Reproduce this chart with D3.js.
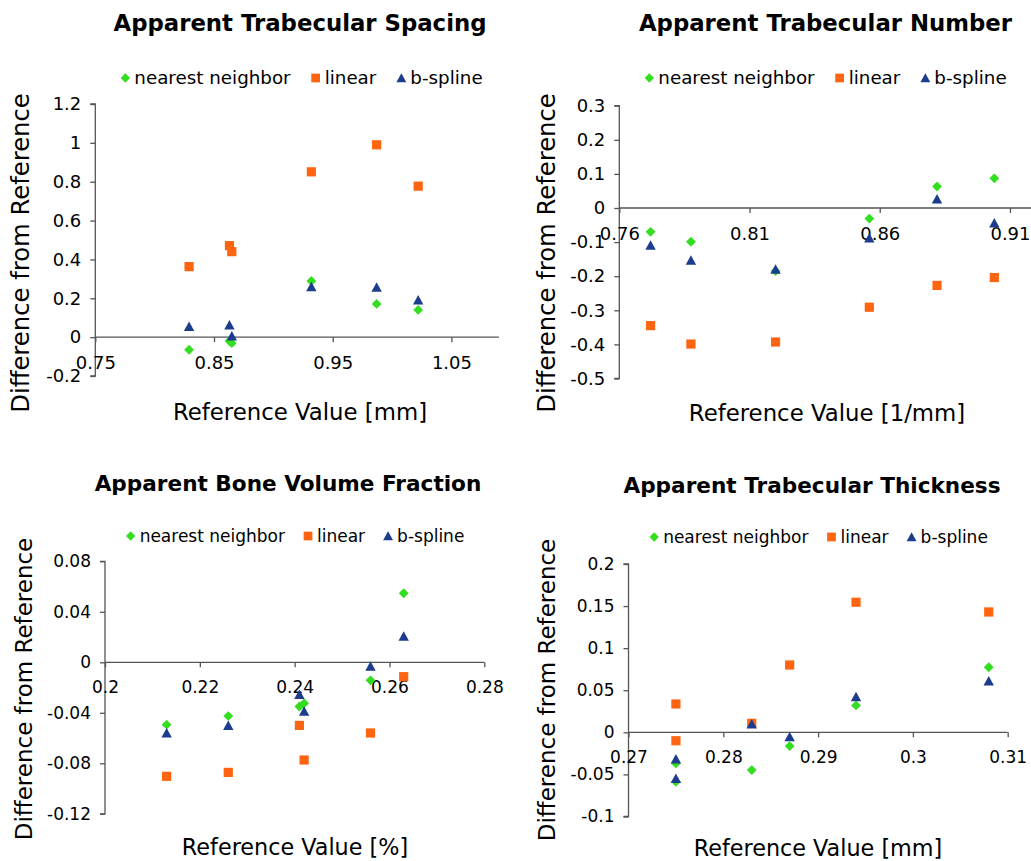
<!DOCTYPE html>
<html><head><meta charset="utf-8">
<script src="https://cdn.jsdelivr.net/npm/d3@7"></script>
<style>body{margin:0;background:#fff}svg{display:block}</style>
</head><body>
<svg id="c" width="1031" height="861"></svg>
<script>
// ---------- data ----------
const seriesNames = ["nearest neighbor", "linear", "b-spline"];
const seriesColors = ["#33dd1f", "#ff6410", "#1c3c8e"];

// Apparent Trabecular Spacing
const spacingRef     = [0.829, 0.863, 0.865, 0.932, 0.987, 1.022];
const spacingNN      = [-0.065, -0.020, -0.031, 0.289, 0.171, 0.140];
const spacingLinear  = [0.363, 0.471, 0.440, 0.851, 0.990, 0.777];
const spacingBspline = [0.055, 0.063, 0.007, 0.260, 0.257, 0.192];
const spacingXTicks  = [0.75, 0.85, 0.95, 1.05];
const spacingXLabels = ["0.75", "0.85", "0.95", "1.05"];
const spacingYTicks  = [-0.2, 0, 0.2, 0.4, 0.6, 0.8, 1, 1.2];
const spacingYLabels = ["-0.2", "0", "0.2", "0.4", "0.6", "0.8", "1", "1.2"];

// Apparent Trabecular Number
const numberRef     = [0.772, 0.7875, 0.820, 0.856, 0.882, 0.904];
const numberNN      = [-0.070, -0.099, -0.185, -0.031, 0.063, 0.087];
const numberLinear  = [-0.345, -0.399, -0.393, -0.291, -0.227, -0.204];
const numberBspline = [-0.109, -0.153, -0.179, -0.088, 0.027, -0.044];
const numberXTicks  = [0.76, 0.81, 0.86, 0.91];
const numberXLabels = ["0.76", "0.81", "0.86", "0.91"];
const numberYTicks  = [-0.5, -0.4, -0.3, -0.2, -0.1, 0, 0.1, 0.2, 0.3];
const numberYLabels = ["-0.5", "-0.4", "-0.3", "-0.2", "-0.1", "0", "0.1", "0.2", "0.3"];

// Apparent Bone Volume Fraction
const bvRef     = [0.213, 0.226, 0.241, 0.242, 0.256, 0.263];
const bvNN      = [-0.0494, -0.0426, -0.0350, -0.0325, -0.0143, 0.0547];
const bvLinear  = [-0.0903, -0.0872, -0.0500, -0.0774, -0.0560, -0.0114];
const bvBspline = [-0.0560, -0.0500, -0.0254, -0.0386, -0.0030, 0.0208];
const bvXTicks  = [0.2, 0.22, 0.24, 0.26, 0.28];
const bvXLabels = ["0.2", "0.22", "0.24", "0.26", "0.28"];
const bvYTicks  = [-0.12, -0.08, -0.04, 0, 0.04, 0.08];
const bvYLabels = ["-0.12", "-0.08", "-0.04", "0", "0.04", "0.08"];

// Apparent Trabecular Thickness
const thRef     = [0.275, 0.275, 0.283, 0.287, 0.294, 0.308];
const thNN      = [-0.0370, -0.0587, -0.0448, -0.0163, 0.0320, 0.0773];
const thLinear  = [0.0337, -0.0100, 0.0107, 0.0800, 0.1546, 0.1430];
const thBspline = [-0.0317, -0.0547, 0.0099, -0.0052, 0.0423, 0.0610];
const thXTicks  = [0.27, 0.28, 0.29, 0.3, 0.31];
const thXLabels = ["0.27", "0.28", "0.29", "0.3", "0.31"];
const thYTicks  = [-0.1, -0.05, 0, 0.05, 0.1, 0.15, 0.2];
const thYLabels = ["-0.1", "-0.05", "0", "0.05", "0.1", "0.15", "0.2"];

const yTitle = "Difference from Reference";

// ---------- layout ----------
const panels = [
  { title: "Apparent Trabecular Spacing", xTitle: "Reference Value [mm]",
    ref: spacingRef, series: [spacingNN, spacingLinear, spacingBspline],
    xTicks: spacingXTicks, xLabels: spacingXLabels, yTicks: spacingYTicks, yLabels: spacingYLabels,
    xDomain: [0.75, 1.09], yDomain: [-0.2, 1.2], xRange: [95.3, 498.9], yRange: [376, 104],
    titleX: 300, titleY: 23, titleSize: 22.8, legendCX: 301.5, legendY: 78, legendSize: 18.3, legendGap: 20,
    tickSize: 18, yTitleX: 20, yTitleY: 253, yTitleSize: 24.3, xTitleX: 300, xTitleY: 412, xTitleSize: 22.8 },
  { title: "Apparent Trabecular Number", xTitle: "Reference Value [1/mm]",
    ref: numberRef, series: [numberNN, numberLinear, numberBspline],
    xTicks: numberXTicks, xLabels: numberXLabels, yTicks: numberYTicks, yLabels: numberYLabels,
    xDomain: [0.76, 0.92], yDomain: [-0.5, 0.3], xRange: [619.3, 1036], yRange: [378.5, 105.7],
    titleX: 825.5, titleY: 23, titleSize: 22.8, legendCX: 825.5, legendY: 78, legendSize: 18.3, legendGap: 20,
    tickSize: 18, yTitleX: 546, yTitleY: 253, yTitleSize: 24.3, xTitleX: 827, xTitleY: 413, xTitleSize: 22.8 },
  { title: "Apparent Bone Volume Fraction", xTitle: "Reference Value [%]",
    ref: bvRef, series: [bvNN, bvLinear, bvBspline],
    xTicks: bvXTicks, xLabels: bvXLabels, yTicks: bvYTicks, yLabels: bvYLabels,
    xDomain: [0.2, 0.28], yDomain: [-0.12, 0.08], xRange: [105, 484.3], yRange: [813.8, 561.3],
    titleX: 288, titleY: 483, titleSize: 21.6, legendCX: 295, legendY: 536, legendSize: 17, legendGap: 18,
    tickSize: 17, yTitleX: 24, yTitleY: 689, yTitleSize: 23, xTitleX: 295, xTitleY: 847, xTitleSize: 22.3 },
  { title: "Apparent Trabecular Thickness", xTitle: "Reference Value [mm]",
    ref: thRef, series: [thNN, thLinear, thBspline],
    xTicks: thXTicks, xLabels: thXLabels, yTicks: thYTicks, yLabels: thYLabels,
    xDomain: [0.27, 0.31], yDomain: [-0.1, 0.2], xRange: [628.5, 1007.7], yRange: [816.5, 564],
    titleX: 812, titleY: 485, titleSize: 21.6, legendCX: 818.5, legendY: 537, legendSize: 17, legendGap: 18,
    tickSize: 17, yTitleX: 547, yTitleY: 690, yTitleSize: 23, xTitleX: 818, xTitleY: 848, xTitleSize: 22.3 }
];

const FONT = "'DejaVu Sans', Verdana, sans-serif";
const AXIS = "#555";
const shapes = [
  "M0,-4.9L4.9,0L0,4.9L-4.9,0Z",              // diamond
  "M-4.6,-4.6L4.6,-4.6L4.6,4.6L-4.6,4.6Z",     // square
  "M0,-4.9L5.2,4.6L-5.2,4.6Z"                  // triangle
];

const svg = d3.select("#c");

panels.forEach(p => {
  const g = svg.append("g");
  const x = d3.scaleLinear().domain(p.xDomain).range(p.xRange);
  const y = d3.scaleLinear().domain(p.yDomain).range(p.yRange);

  // title
  g.append("text").attr("x", p.titleX).attr("y", p.titleY).attr("dy", "0.36em")
    .attr("text-anchor", "middle").attr("font-family", FONT).attr("font-weight", "bold")
    .attr("font-size", p.titleSize).attr("fill", "#000").text(p.title);

  // y axis
  const yAxis = d3.axisLeft(y).tickValues(p.yTicks).tickSize(5).tickPadding(9)
    .tickFormat((d, i) => p.yLabels[i]);
  const ya = g.append("g").attr("transform", `translate(${p.xRange[0]},0)`).call(yAxis);
  ya.select(".domain").attr("stroke", AXIS).attr("stroke-width", 1.3)
    .attr("d", `M-5,${p.yRange[0]}H0V${p.yRange[1]}H-5`);
  ya.selectAll(".tick line").attr("stroke", AXIS).attr("stroke-width", 1.3);
  ya.selectAll(".tick text").attr("font-family", FONT).attr("font-size", p.tickSize)
    .attr("fill", "#000");

  // x axis at y = 0
  const xAxis = d3.axisBottom(x).tickValues(p.xTicks).tickSize(5).tickPadding(14)
    .tickFormat((d, i) => p.xLabels[i]);
  const xa = g.append("g").attr("transform", `translate(0,${y(0)})`).call(xAxis);
  xa.select(".domain").attr("stroke", AXIS).attr("stroke-width", 1.3)
    .attr("d", `M${p.xRange[0]},0H${p.xRange[1]}`);
  xa.selectAll(".tick line").attr("stroke", AXIS).attr("stroke-width", 1.3);
  xa.selectAll(".tick text").attr("font-family", FONT).attr("font-size", p.tickSize)
    .attr("fill", "#000");

  // axis titles
  g.append("text").attr("x", p.xTitleX).attr("y", p.xTitleY).attr("dy", "0.36em")
    .attr("text-anchor", "middle").attr("font-family", FONT).attr("font-size", p.xTitleSize)
    .attr("fill", "#000").text(p.xTitle);
  g.append("text").attr("transform", `translate(${p.yTitleX},${p.yTitleY}) rotate(-90)`)
    .attr("dy", "0.36em").attr("text-anchor", "middle").attr("font-family", FONT)
    .attr("font-size", p.yTitleSize).attr("fill", "#000").text(yTitle);

  // points (series in order: NN, linear, b-spline)
  p.series.forEach((vals, si) => {
    g.append("g").selectAll("path").data(vals).join("path")
      .attr("d", shapes[si])
      .attr("transform", (v, i) => `translate(${x(p.ref[i])},${y(v)})`)
      .attr("fill", seriesColors[si]);
  });

  // legend
  const lg = g.append("g");
  let cx = 0;
  seriesNames.forEach((name, si) => {
    lg.append("path").attr("d", shapes[si]).attr("fill", seriesColors[si])
      .attr("transform", `translate(${cx + 5},0) scale(0.95)`);
    const t = lg.append("text").attr("x", cx + 14).attr("y", 0).attr("dy", "0.34em")
      .attr("font-family", FONT).attr("font-size", p.legendSize).attr("fill", "#000").text(name);
    cx += 14 + t.node().getComputedTextLength() + p.legendGap;
  });
  const w = cx - p.legendGap;
  lg.attr("transform", `translate(${p.legendCX - w / 2},${p.legendY})`);
});
</script>
</body></html>
